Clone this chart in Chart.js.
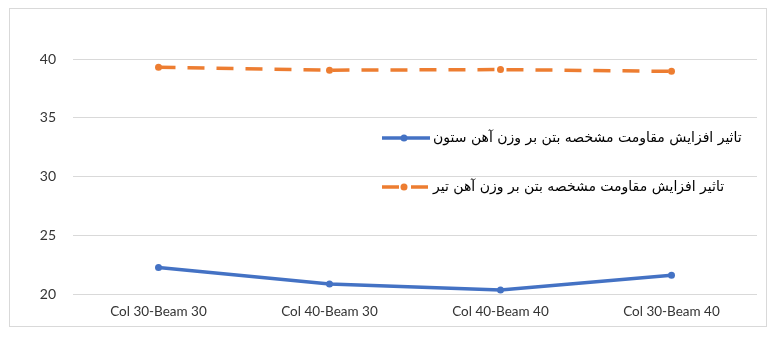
<!DOCTYPE html>
<html>
<head>
<meta charset="utf-8">
<script src="https://cdn.jsdelivr.net/npm/chart.js@4.4.0/dist/chart.umd.min.js"></script>
<style>
  html, body { margin: 0; padding: 0; background: #fff; }
  #box {
    position: absolute; left: 9px; top: 8px;
    width: 758px; height: 319px;
    box-sizing: border-box; border: 1px solid #d9d9d9;
  }
  #chart { display: block; }
</style>
</head>
<body>
<div id="box"><canvas id="chart" width="756" height="317"></canvas></div>
<script>
const categories = ['Col 30-Beam 30', 'Col 40-Beam 30', 'Col 40-Beam 40', 'Col 30-Beam 40'];
const columnSeries = [22.25, 20.85, 20.35, 21.6];
const beamSeries = [39.3, 39.05, 39.1, 38.95];
const seriesNames = [
    'تاثیر افزایش مقاومت مشخصه بتن بر وزن آهن ستون',
    'تاثیر افزایش مقاومت مشخصه بتن بر وزن آهن تیر'
];
const yTicks = [20, 25, 30, 35, 40];

const BLUE = '#4472c4';
const ORANGE = '#ed7d31';

// Excel-style legend sitting inside the plot area
const insideLegend = {
    id: 'insideLegend',
    afterDatasetsDraw(chart) {
        const ctx = chart.ctx;
        const rows = [129, 178];
        chart.data.datasets.forEach((ds, i) => {
            const y = rows[i];
            ctx.save();
            ctx.strokeStyle = ds.borderColor;
            ctx.lineWidth = ds.borderWidth;
            ctx.setLineDash(ds.borderDash || []);
            ctx.beginPath();
            ctx.moveTo(372, y);
            ctx.lineTo(420, y);
            ctx.stroke();
            ctx.setLineDash([]);
            ctx.fillStyle = ds.borderColor;
            ctx.beginPath();
            ctx.arc(394, y, 3.5, 0, Math.PI * 2);
            ctx.fill();
            ctx.fillStyle = '#000';
            ctx.font = '14px "DejaVu Sans", sans-serif';
            ctx.direction = 'rtl';
            ctx.textAlign = 'left';
            ctx.textBaseline = 'middle';
            ctx.fillText(ds.label, 423, y);
            ctx.restore();
        });
    }
};

new Chart(document.getElementById('chart'), {
    type: 'line',
    data: {
        labels: categories,
        datasets: [{
            label: seriesNames[0],
            data: columnSeries,
            borderColor: BLUE,
            backgroundColor: BLUE,
            borderWidth: 3.5,
            pointRadius: 3.5,
            pointBorderWidth: 0,
            tension: 0
        }, {
            label: seriesNames[1],
            data: beamSeries,
            borderColor: ORANGE,
            backgroundColor: ORANGE,
            borderWidth: 3.5,
            borderDash: [17, 12],
            pointRadius: 3.5,
            pointBorderWidth: 0,
            tension: 0
        }]
    },
    options: {
        responsive: false,
        animation: false,
        layout: { padding: { top: 50, right: 9, bottom: 5, left: 0 } },
        plugins: {
            legend: { display: false },
            tooltip: { enabled: false }
        },
        scales: {
            x: {
                offset: true,
                afterFit: scale => { scale.height = 27; },
                grid: { display: false, drawTicks: false },
                border: { display: false },
                ticks: {
                    color: '#333',
                    padding: 10,
                    maxRotation: 0,
                    font: { family: "Lato, sans-serif", size: 13.5 }
                }
            },
            y: {
                min: yTicks[0],
                max: yTicks[yTicks.length - 1],
                afterBuildTicks: scale => { scale.ticks = yTicks.map(v => ({ value: v })); },
                afterFit: scale => { scale.width = 63; },
                grid: { color: '#d9d9d9', drawTicks: false },
                border: { display: false },
                ticks: {
                    color: '#333',
                    padding: 17,
                    font: { family: "Lato, sans-serif", size: 14 }
                }
            }
        }
    },
    plugins: [insideLegend]
});
</script>
</body>
</html>
